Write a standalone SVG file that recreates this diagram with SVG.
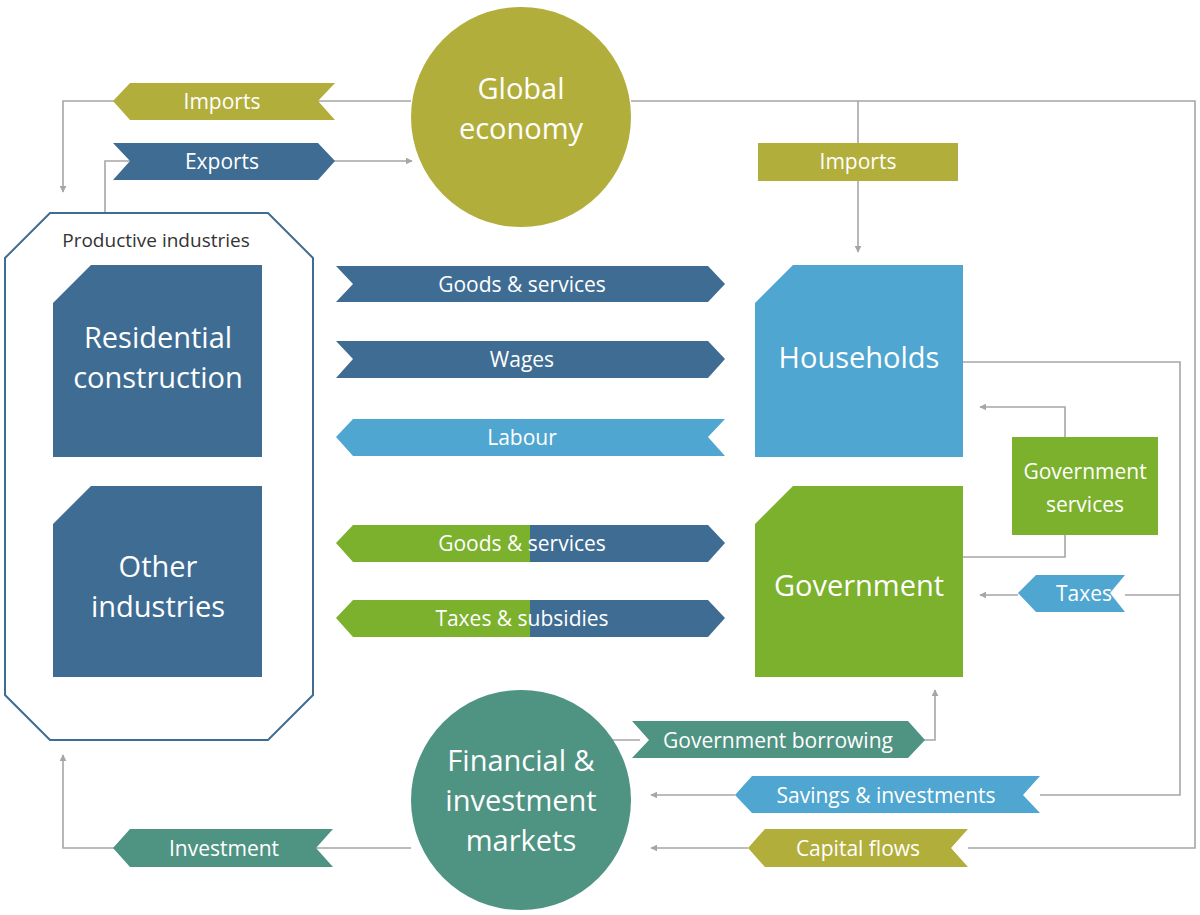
<svg xmlns="http://www.w3.org/2000/svg" width="1200" height="915" viewBox="0 0 1200 915">
<defs>
<marker id="ah" viewBox="0 0 10 10" refX="9" refY="5" markerWidth="7" markerHeight="7" markerUnits="userSpaceOnUse" orient="auto"><path d="M0,0L10,5L0,10z" fill="#a6a6a6"/></marker>
<style>
.ln{fill:none;stroke:#a6a6a6;stroke-width:1.6;marker-end:url(#ah)}
.ln2{fill:none;stroke:#a6a6a6;stroke-width:1.6}
text{font-family:"Open Sans","Liberation Sans",sans-serif;fill:#fff;text-anchor:middle}
.b{font-size:21px}
.n{font-size:29px}
.olive{fill:#b2ae3c}.dblue{fill:#3e6c93}.lblue{fill:#4fa6d0}.green{fill:#7bb12d}.teal{fill:#4f9382}
</style>
</defs>
<rect width="1200" height="915" fill="#fff"/>
<g id="connectors">
<path class="ln" d="M411,101H63V192"/>
<path class="ln" d="M105,212V161H412"/>
<path class="ln2" d="M631,101H1195V848H968"/>
<path class="ln" d="M858,101V252"/>
<path class="ln2" d="M963,362H1180V795H1040"/>
<path class="ln2" d="M1180,595H1125"/>
<path class="ln" d="M1018,595H980"/>
<path class="ln" d="M1065,437V407H980"/>
<path class="ln2" d="M1065,535V557H963"/>
<path class="ln" d="M735,795H651"/>
<path class="ln" d="M748,848H651"/>
<path class="ln2" d="M600,740H640"/>
<path class="ln" d="M920,740H935V690"/>
<path class="ln" d="M411,848H63V755"/>
</g>
<g id="global"><circle cx="521" cy="117" r="110" class="olive"/><text x="521" y="99" class="n">Global</text><text x="521" y="139" class="n">economy</text></g>
<g id="imports1"><path class="olive" d="M113,101L130,83H335L318,101L335,120H130Z"/><text x="222" y="109" class="b">Imports</text></g>
<g id="exports"><path class="dblue" d="M113,143H318L335,161L318,180H113L130,161Z"/><text x="222" y="169" class="b">Exports</text></g>
<g id="imports2"><rect x="758" y="143" width="200" height="38" class="olive"/><text x="858" y="169" class="b">Imports</text></g>
<g id="productive"><path d="M50,213H268L313,258V695L268,740H50L5,695V258Z" fill="none" stroke="#3e6c93" stroke-width="2"/><text x="156" y="247" style="fill:#333;font-size:19px">Productive industries</text></g>
<g id="residential"><path class="dblue" d="M91,265H262V457H53V303Z"/><text x="158" y="348" class="n">Residential</text><text x="158" y="388" class="n">construction</text></g>
<g id="other"><path class="dblue" d="M91,486H262V677H53V524Z"/><text x="158" y="577" class="n">Other</text><text x="158" y="617" class="n">industries</text></g>
<g id="households"><path class="lblue" d="M793,265H963V457H755V303Z"/><text x="859" y="368" class="n">Households</text></g>
<g id="government"><path class="green" d="M793,486H963V677H755V524Z"/><text x="859" y="596" class="n">Government</text></g>
<g id="govservices"><rect x="1012" y="437" width="146" height="98" class="green"/><text x="1085" y="479" class="b">Government</text><text x="1085" y="512" class="b">services</text></g>
<g id="goods1"><path class="dblue" d="M336,266H708L725,284L708,302H336L353,284Z"/><text x="522" y="292" class="b">Goods &amp; services</text></g>
<g id="wages"><path class="dblue" d="M336,341H708L725,359L708,378H336L353,359Z"/><text x="522" y="367" class="b">Wages</text></g>
<g id="labour"><path class="lblue" d="M336,437L353,419H725L708,437L725,456H353Z"/><text x="522" y="445" class="b">Labour</text></g>
<g id="goods2"><path class="green" d="M336,543L353,525H531V562H353Z"/><path class="dblue" d="M530,525H708L725,543L708,562H530Z"/><text x="522" y="551" class="b">Goods &amp; services</text></g>
<g id="taxsub"><path class="green" d="M336,618L353,600H531V637H353Z"/><path class="dblue" d="M530,600H708L725,618L708,637H530Z"/><text x="522" y="626" class="b">Taxes &amp; subsidies</text></g>
<g id="taxes"><path class="lblue" d="M1018,593L1036,575H1125L1110,593L1125,612H1036Z"/><text x="1084" y="601" class="b">Taxes</text></g>
<g id="financial"><circle cx="521" cy="800" r="110" class="teal"/><text x="521" y="771" class="n">Financial &amp;</text><text x="521" y="811" class="n">investment</text><text x="521" y="851" class="n">markets</text></g>
<g id="borrowing"><path class="teal" d="M632,721H908L925,740L908,758H632L649,740Z"/><text x="778" y="748" class="b">Government borrowing</text></g>
<g id="savings"><path class="lblue" d="M735,795L752,776H1040L1023,795L1040,813H752Z"/><text x="886" y="803" class="b">Savings &amp; investments</text></g>
<g id="capital"><path class="olive" d="M748,848L765,829H968L951,848L968,867H765Z"/><text x="858" y="856" class="b">Capital flows</text></g>
<g id="investment"><path class="teal" d="M113,848L130,829H333L316,848L333,867H130Z"/><text x="224" y="856" class="b">Investment</text></g>
</svg>
